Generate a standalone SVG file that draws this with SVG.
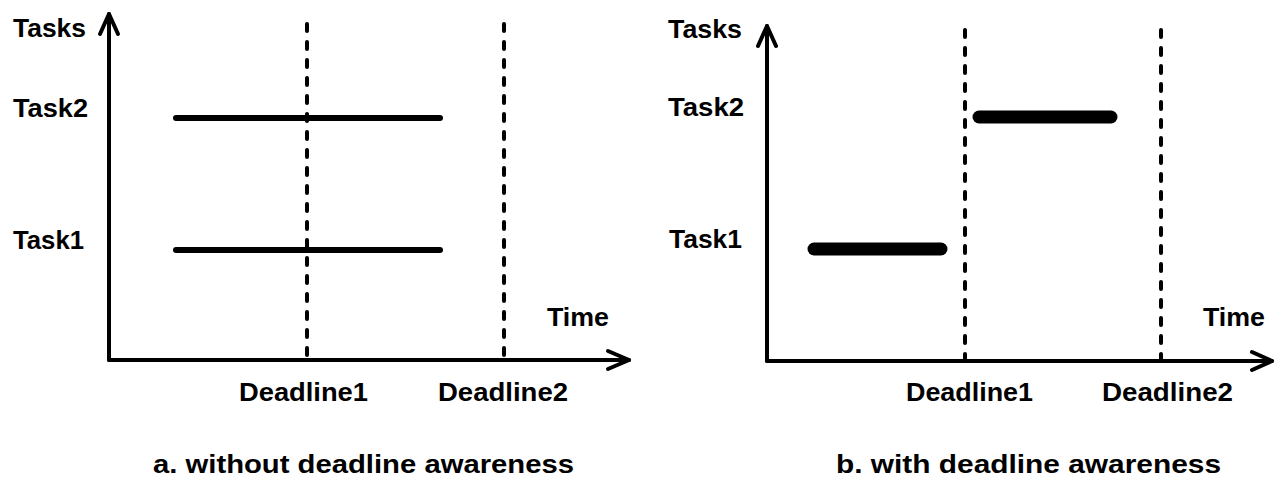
<svg xmlns="http://www.w3.org/2000/svg" width="1275" height="480" viewBox="0 0 1275 480">
  <style>
    text { font-family: "Liberation Sans", Arial, Helvetica, sans-serif; font-weight: bold; fill: #000; }
    .lbl { font-size: 25.5px; }
    .cap { font-size: 26px; }
    .axis { stroke: #000; stroke-width: 4; fill: none; stroke-linecap: round; stroke-linejoin: round; }
    .dash { stroke: #000; stroke-width: 4; fill: none; stroke-linecap: round; stroke-dasharray: 7 11; }
    .bar-thin { stroke: #000; stroke-width: 6; stroke-linecap: round; }
    .bar-thick { stroke: #000; stroke-width: 13; stroke-linecap: round; }
  </style>
  <rect width="1275" height="480" fill="#fff"/>

  <g id="panel-a">
    <g id="axes-a">
      <polyline class="axis" points="109,360 109,14"/>
      <polyline class="axis" points="100,34 109,14 118,34"/>
      <polyline class="axis" points="109,360 629,360"/>
      <polyline class="axis" points="608,351 629,360 608,369"/>
    </g>
    <g id="deadlines-a">
      <line class="dash" x1="307" y1="24" x2="307" y2="360"/>
      <line class="dash" x1="504" y1="24" x2="504" y2="360"/>
    </g>
    <g id="tasks-a">
      <line class="bar-thin" x1="176" y1="118" x2="440" y2="118"/>
      <line class="bar-thin" x1="176" y1="250" x2="440" y2="250"/>
    </g>
    <g id="labels-a">
      <text class="lbl" x="13" y="37" textLength="73" lengthAdjust="spacingAndGlyphs">Tasks</text>
      <text class="lbl" x="13" y="117" textLength="75" lengthAdjust="spacingAndGlyphs">Task2</text>
      <text class="lbl" x="13" y="249" textLength="71" lengthAdjust="spacingAndGlyphs">Task1</text>
      <text class="lbl" x="547" y="326" textLength="62" lengthAdjust="spacingAndGlyphs">Time</text>
      <text class="lbl" x="239" y="401" textLength="129" lengthAdjust="spacingAndGlyphs">Deadline1</text>
      <text class="lbl" x="438" y="401" textLength="130" lengthAdjust="spacingAndGlyphs">Deadline2</text>
      <text class="cap" x="153" y="473" textLength="421" lengthAdjust="spacingAndGlyphs">a. without deadline awareness</text>
    </g>
  </g>

  <g id="panel-b">
    <g id="axes-b">
      <polyline class="axis" points="767,361 767,26"/>
      <polyline class="axis" points="758,46 767,26 776,46"/>
      <polyline class="axis" points="767,361 1272,361"/>
      <polyline class="axis" points="1252,352 1272,361 1252,370"/>
    </g>
    <g id="deadlines-b">
      <line class="dash" x1="965" y1="30" x2="965" y2="361"/>
      <line class="dash" x1="1161" y1="30" x2="1161" y2="361"/>
    </g>
    <g id="tasks-b">
      <line class="bar-thick" x1="814" y1="249" x2="941" y2="249"/>
      <line class="bar-thick" x1="979" y1="117" x2="1111" y2="117"/>
    </g>
    <g id="labels-b">
      <text class="lbl" x="668" y="38" textLength="74" lengthAdjust="spacingAndGlyphs">Tasks</text>
      <text class="lbl" x="668" y="116" textLength="76" lengthAdjust="spacingAndGlyphs">Task2</text>
      <text class="lbl" x="669" y="248" textLength="73" lengthAdjust="spacingAndGlyphs">Task1</text>
      <text class="lbl" x="1203" y="326" textLength="62" lengthAdjust="spacingAndGlyphs">Time</text>
      <text class="lbl" x="906" y="401" textLength="127" lengthAdjust="spacingAndGlyphs">Deadline1</text>
      <text class="lbl" x="1102" y="401" textLength="131" lengthAdjust="spacingAndGlyphs">Deadline2</text>
      <text class="cap" x="836" y="473" textLength="385" lengthAdjust="spacingAndGlyphs">b. with deadline awareness</text>
    </g>
  </g>
</svg>
